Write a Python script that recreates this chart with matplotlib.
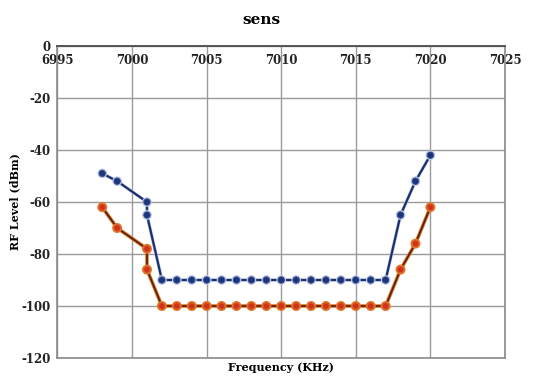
import matplotlib
matplotlib.use("Agg")
import matplotlib.pyplot as plt
import matplotlib.patheffects as pe

plt.rcParams["axes.unicode_minus"] = False

# data
freq_blue = [6998, 6999, 7001, 7001] + list(range(7002, 7018)) + [7018, 7019, 7020]
level_blue = [-49, -52, -60, -65] + [-90] * 16 + [-65, -52, -42]

freq_red = [6998, 6999, 7001, 7001] + list(range(7002, 7018)) + [7018, 7019, 7020]
level_red = [-62, -70, -78, -86] + [-100] * 16 + [-86, -76, -62]

xticks = [6995, 7000, 7005, 7010, 7015, 7020, 7025]
yticks = [0, -20, -40, -60, -80, -100, -120]

fnt = "DejaVu Serif"

fig = plt.figure(figsize=(5.45, 3.82), dpi=100)
ax = fig.add_axes([0.1055, 0.0628, 0.821, 0.8168])

ax.plot(freq_blue, level_blue, color="#1c2f6e", lw=1.6, marker="o", ms=4.6,
        mfc="#1f3478", mec="#2f4a92", mew=0.6,
        path_effects=[pe.Stroke(linewidth=2.4, foreground="#bccae6"), pe.Normal()])
ax.plot(freq_red, level_red, color="#5e2210", lw=1.3, marker="o", ms=4.6,
        mfc="#d0321c", mec="#dc5a28", mew=0.6,
        path_effects=[pe.Stroke(linewidth=2.6, foreground="#e0782a"), pe.Normal()])

ax.set_xlim(6995, 7025)
ax.set_ylim(-120, 0)
ax.set_xticks(xticks)
ax.set_yticks(yticks)
ax.grid(True, color="#9a9a9a", lw=1)
ax.set_axisbelow(True)

ax.xaxis.set_ticks_position("top")
ax.tick_params(axis="x", top=True, labeltop=True, bottom=False, labelbottom=False,
               length=0, pad=-15)
ax.tick_params(axis="y", length=0, pad=5)
for lab in ax.get_xticklabels() + ax.get_yticklabels():
    lab.set_fontfamily(fnt)
    lab.set_fontweight("bold")
    lab.set_fontsize(8.5)
    lab.set_color("#222222")

for s in ["left", "bottom", "right"]:
    ax.spines[s].set_color("#8a8a8a")
    ax.spines[s].set_linewidth(1.2)
ax.spines["top"].set_color("#555555")
ax.spines["top"].set_linewidth(1.4)

ax.xaxis.set_label_position("bottom")
ax.set_xlabel("Frequency (KHz)", fontfamily=fnt, fontweight="bold", fontsize=8, labelpad=3)
ax.set_ylabel("RF Level (dBm)", fontfamily=fnt, fontweight="bold", fontsize=8)
ax.yaxis.set_label_coords(-0.084, 0.5)

fig.text(261 / 545, 1 - 20 / 382, "sens", fontfamily=fnt, fontweight="bold",
         fontsize=11, ha="center", va="center")

fig.savefig("out.png", dpi=100, facecolor="white")
